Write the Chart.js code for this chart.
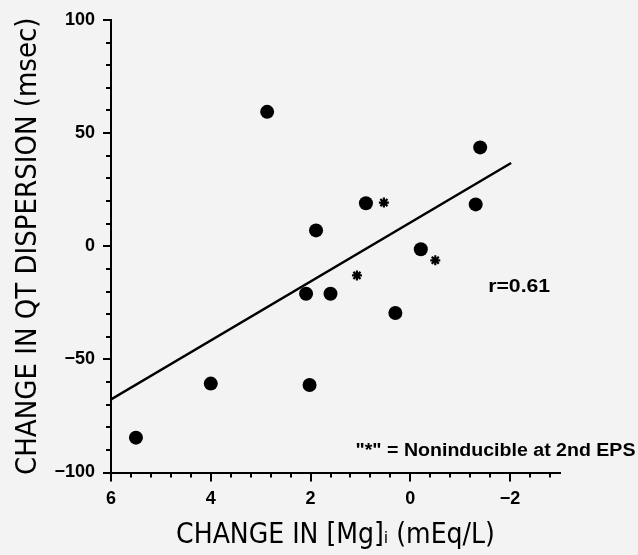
<!DOCTYPE html>
<html>
<head>
<meta charset="utf-8">
<script src="https://cdn.jsdelivr.net/npm/chart.js@4.4.1/dist/chart.umd.min.js"></script>
<style>
  html, body { margin: 0; padding: 0; background: #f3f3f3; }
  #wrap { width: 638px; height: 555px; }
</style>
</head>
<body>
<div id="wrap"><canvas id="c" width="638" height="555"></canvas></div>
<script>
// ---- data ----
const mgChange = [5.5, 4.0, 2.87, 2.09, 2.02, 1.89, 1.60, 0.89, 0.30, -0.21, -1.31, -1.40];
const qtChange = [-84.6, -60.7, 59.4, -21, -61.3, 7, -21, 19, -29.5, -1.3, 18.5, 43.7];
const mgNoninducible = [0.53, 1.07, -0.50];
const qtNoninducible = [19.3, -12.9, -6.2];
const fitX = [6, -2.02];
const fitY = [-67.7, 36.8];
const xTickValues = [6, 4, 2, 0, -2];
const yTickValues = [100, 50, 0, -50, -100];
const xTitle = 'CHANGE IN [Mg]\u1D62 (mEq/L)';
const yTitle = 'CHANGE IN QT DISPERSION (msec)';
const rLabel = 'r=0.61';
const noteLabel = '"*" = Noninducible at 2nd EPS';

const toPts = (xs, ys) => xs.map((x, i) => ({ x: x, y: ys[i] }));
const minus = v => (v < 0 ? '\u2212' + Math.abs(v) : String(v));
const titleFont = "'Liberation Sans Narrow', 'DejaVu Sans Condensed', 'Liberation Sans', Arial, sans-serif";
const tickFont = "'Liberation Sans', Arial, sans-serif";

function drawStretched(ctx, text, x, y, targetWidth) {
  const w = ctx.measureText(text).width;
  const k = targetWidth / w;
  ctx.save();
  ctx.translate(x, y);
  ctx.scale(k, 1);
  ctx.fillText(text, 0, 0);
  ctx.restore();
}

const extras = {
  id: 'extras',
  beforeDraw(chart) {
    const ctx = chart.ctx;
    ctx.save();
    ctx.fillStyle = '#f3f3f3';
    ctx.fillRect(0, 0, chart.width, chart.height);
    ctx.restore();
  },
  afterDraw(chart) {
    const ctx = chart.ctx;
    const xs = chart.scales.x, ys = chart.scales.y;
    const area = chart.chartArea;
    ctx.save();
    ctx.fillStyle = '#000';
    // minor ticks on x (every 0.4)
    for (let k = 0; k <= 22; k++) {
      const v = 6 - k * 0.4;
      if (Math.abs(v / 2 - Math.round(v / 2)) < 1e-6) continue;
      const px = Math.round(xs.getPixelForValue(v));
      ctx.fillRect(px - 1, area.bottom, 2, 5);
    }
    // minor ticks on y (every 10)
    for (let k = -10; k <= 10; k++) {
      const v = k * 10;
      if (v % 50 === 0) continue;
      const py = Math.round(ys.getPixelForValue(v));
      ctx.fillRect(area.left - 5, py - 1, 5, 2);
    }
    // major ticks
    xTickValues.forEach(v => {
      const px = Math.round(xs.getPixelForValue(v));
      ctx.fillRect(px - 1, area.bottom, 2, 9);
    });
    yTickValues.forEach(v => {
      const py = Math.round(ys.getPixelForValue(v));
      ctx.fillRect(area.left - 8, py - 1, 8, 2);
    });
    // annotations
    ctx.textBaseline = 'middle';
    ctx.textAlign = 'left';
    ctx.font = "bold 18px " + tickFont;
    drawStretched(ctx, rLabel, xs.getPixelForValue(-1.56), ys.getPixelForValue(-18.2), 62);
    drawStretched(ctx, noteLabel, xs.getPixelForValue(1.10), ys.getPixelForValue(-90.7), 280);
    ctx.restore();
  }
};

new Chart(document.getElementById('c'), {
  type: 'scatter',
  data: {
    datasets: [
      {
        label: 'Inducible',
        data: toPts(mgChange, qtChange),
        pointStyle: 'circle',
        pointRadius: 7,
        pointHoverRadius: 7,
        backgroundColor: '#000',
        borderColor: '#000',
        borderWidth: 0
      },
      {
        label: 'Noninducible',
        data: toPts(mgNoninducible, qtNoninducible),
        pointStyle: 'star',
        pointRadius: 5,
        pointHoverRadius: 5,
        backgroundColor: '#000',
        borderColor: '#000',
        borderWidth: 2.2
      },
      {
        type: 'line',
        label: 'Fit',
        data: toPts(fitX, fitY),
        borderColor: '#000',
        borderWidth: 2.5,
        pointRadius: 0,
        fill: false,
        tension: 0
      }
    ]
  },
  options: {
    responsive: false,
    animation: false,
    events: [],
    layout: { padding: { left: 0, right: 78, top: 20, bottom: 0 } },
    plugins: { legend: { display: false }, tooltip: { enabled: false } },
    scales: {
      x: {
        type: 'linear',
        reverse: true,
        min: -3,
        max: 6,
        afterBuildTicks: s => { s.ticks = xTickValues.map(v => ({ value: v })); },
        afterFit: s => { s.height = 82.5; },
        ticks: {
          color: '#000',
          padding: 8,
          maxRotation: 0,
          font: { family: tickFont, size: 18, weight: 'bold' },
          callback: v => minus(v)
        },
        grid: { drawOnChartArea: false, drawTicks: true, tickLength: 8, color: '#000', lineWidth: 2 },
        border: { display: true, color: '#000', width: 2 },
        title: {
          display: true,
          text: xTitle,
          color: '#000',
          font: { family: titleFont, size: 28, weight: 'normal' },
          padding: { top: 0, bottom: 2 }
        }
      },
      y: {
        type: 'linear',
        min: -100,
        max: 100,
        afterBuildTicks: s => { s.ticks = yTickValues.map(v => ({ value: v })); },
        afterFit: s => { s.width = 111; },
        ticks: {
          color: '#000',
          padding: 8,
          font: { family: tickFont, size: 18, weight: 'bold' },
          callback: v => minus(v)
        },
        grid: { drawOnChartArea: false, drawTicks: true, tickLength: 8, color: '#000', lineWidth: 2 },
        border: { display: true, color: '#000', width: 2 },
        title: {
          display: true,
          text: yTitle,
          color: '#000',
          font: { family: titleFont, size: 29, weight: 'normal' },
          padding: { top: 11, bottom: 0 }
        }
      }
    }
  },
  plugins: [extras]
});
</script>
</body>
</html>
